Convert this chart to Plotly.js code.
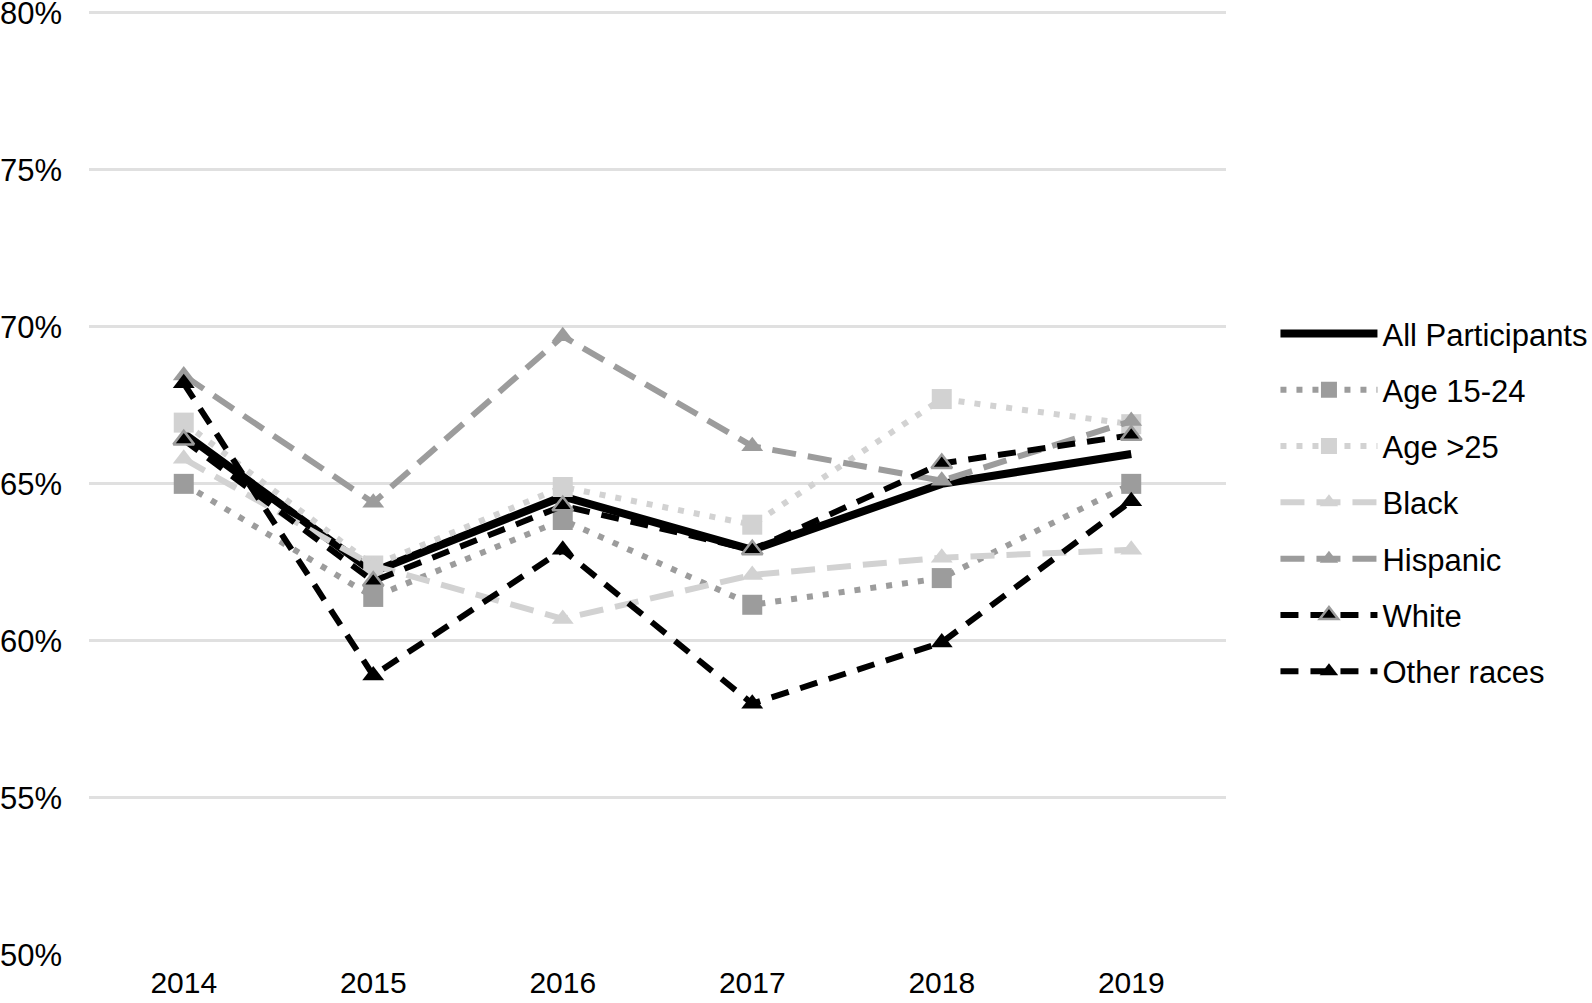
<!DOCTYPE html>
<html>
<head>
<meta charset="utf-8">
<script src="https://cdn.plot.ly/plotly-3.0.1.min.js"></script>
<style>html,body{margin:0;padding:0;background:#fff;}#chart{width:1592px;height:1003px;}</style>
</head>
<body>
<div id="chart"></div>
<script>
const years = ['2014', '2015', '2016', '2017', '2018', '2019'];
const allParticipants = [66.6, 62.2, 64.6, 62.9, 65.0, 65.95];
const age1524 = [65.0, 61.4, 63.85, 61.15, 62.0, 65.0];
const age25 = [66.95, 62.4, 64.9, 63.7, 67.7, 66.9];
const black = [65.8, 62.4, 60.7, 62.1, 62.65, 62.9];
const hispanic = [68.45, 64.4, 69.7, 66.2, 65.1, 67.0];
const white = [66.4, 61.9, 64.3, 62.9, 65.65, 66.55];
const otherRaces = [68.2, 58.9, 62.9, 58.0, 59.95, 64.45];
const yTicks = [50, 55, 60, 65, 70, 75, 80];

const MID = '#9c9c9c', LIGHT = '#d2d2d2';
const traces = [
  {name: 'All Participants', y: allParticipants, mode: 'lines',
   line: {color: '#000', width: 8}},
  {name: 'Age 15-24', y: age1524, mode: 'lines+markers',
   line: {color: MID, width: 6, dash: '6px,10px'},
   marker: {symbol: 'square', size: 20, color: MID}},
  {name: 'Age >25', y: age25, mode: 'lines+markers',
   line: {color: LIGHT, width: 6, dash: '6px,10px'},
   marker: {symbol: 'square', size: 20, color: LIGHT}},
  {name: 'Black', y: black, mode: 'lines+markers',
   line: {color: LIGHT, width: 6, dash: '24px,12px'},
   marker: {symbol: 'triangle-up', size: 19, color: LIGHT}},
  {name: 'Hispanic', y: hispanic, mode: 'lines+markers',
   line: {color: MID, width: 6, dash: '24px,12px'},
   marker: {symbol: 'triangle-up', size: 19, color: MID}},
  {name: 'White', y: white, mode: 'lines+markers',
   line: {color: '#000', width: 6, dash: '18px,12px'},
   marker: {symbol: 'triangle-up', size: 18, color: '#000', line: {color: MID, width: 2.5}}},
  {name: 'Other races', y: otherRaces, mode: 'lines+markers',
   line: {color: '#000', width: 6, dash: '18px,12px'},
   marker: {symbol: 'triangle-up', size: 19, color: '#000'}}
].map((t, i) => Object.assign({type: 'scatter', x: years, hoverinfo: 'skip', legendgroup: 'g' + i}, t));

const layout = {
  width: 1592, height: 1003,
  margin: {l: 89, r: 366, t: 8, b: 48, autoexpand: false},
  paper_bgcolor: '#fff', plot_bgcolor: '#fff',
  font: {family: 'Liberation Sans, Arial, sans-serif', size: 31, color: '#000'},
  showlegend: true,
  xaxis: {type: 'category', range: [-0.5, 5.5], showgrid: false, zeroline: false, showline: false,
          ticks: '', ticklabelstandoff: 7, ticklabeloverflow: 'allow',
          tickfont: {size: 30, color: '#000'}},
  yaxis: {range: [50, 80.15], tickvals: yTicks, ticktext: yTicks.map(v => v + '%'),
          showgrid: true, gridcolor: '#e0e0e0', gridwidth: 3, zeroline: false,
          showline: false, ticks: '', ticklabelstandoff: 26, ticklabeloverflow: 'allow',
          tickfont: {size: 31, color: '#000'}},
  legend: {x: 1.0435, xanchor: 'left', y: 0.4775, yanchor: 'middle',
           itemwidth: 97, font: {size: 31, color: '#000'},
           bgcolor: 'rgba(0,0,0,0)', tracegroupgap: 13}
};

Plotly.newPlot('chart', traces, layout, {displayModeBar: false, staticPlot: true});
</script>
</body>
</html>
